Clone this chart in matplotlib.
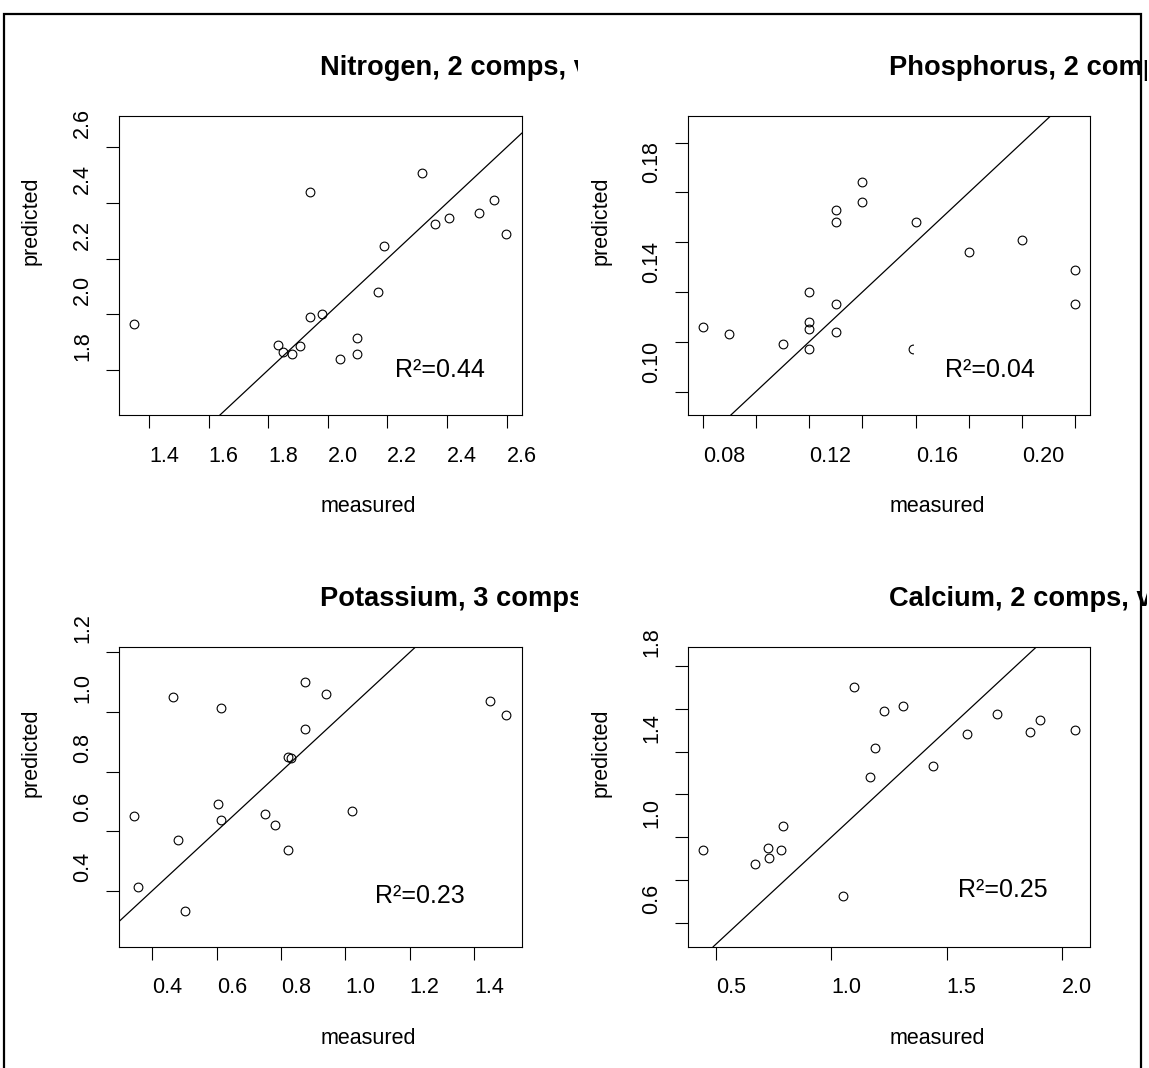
import matplotlib
matplotlib.use("Agg")
import matplotlib.pyplot as plt
from matplotlib.patches import Rectangle
from matplotlib.transforms import offset_copy, Bbox, TransformedBbox

plt.rcParams['font.family'] = 'Liberation Sans'

W, H = 1149, 1068

# measured vs predicted, one pair of lists per nutrient
n_meas = [1.349, 1.939, 2.317, 2.559, 2.508, 2.408, 2.359, 2.599, 2.190, 2.167,
          1.982, 1.939, 2.099, 2.099, 2.040, 1.832, 1.908, 1.849, 1.881]
n_pred = [1.964, 2.439, 2.508, 2.412, 2.363, 2.348, 2.325, 2.290, 2.244, 2.081,
          2.000, 1.989, 1.914, 1.858, 1.840, 1.890, 1.886, 1.863, 1.858]

p_meas = [0.080, 0.090, 0.110, 0.120, 0.120, 0.120, 0.120, 0.130, 0.130, 0.130,
          0.130, 0.140, 0.140, 0.160, 0.180, 0.200, 0.220, 0.220, 0.159]
p_pred = [0.126, 0.123, 0.119, 0.140, 0.128, 0.125, 0.117, 0.173, 0.168, 0.135,
          0.124, 0.184, 0.176, 0.168, 0.156, 0.161, 0.149, 0.135, 0.117]

k_meas = [0.342, 0.356, 0.465, 0.481, 0.503, 0.613, 0.603, 0.613, 0.751, 0.781,
          0.823, 0.823, 0.832, 0.874, 0.874, 0.941, 1.022, 1.451, 1.500]
k_pred = [0.650, 0.412, 1.049, 0.569, 0.332, 1.014, 0.692, 0.637, 0.658, 0.619,
          0.536, 0.850, 0.844, 1.099, 0.943, 1.061, 0.666, 1.037, 0.989]

ca_meas = [0.442, 0.670, 0.729, 0.724, 0.783, 0.789, 1.052, 1.100, 1.169, 1.188,
           1.230, 1.312, 1.440, 1.588, 1.716, 1.862, 1.904, 2.056]
ca_pred = [0.938, 0.873, 0.902, 0.949, 0.938, 1.051, 0.725, 1.700, 1.281, 1.416,
           1.588, 1.611, 1.334, 1.482, 1.575, 1.493, 1.547, 1.499]

titles = ["Nitrogen, 2 comps, validation", "Phosphorus, 2 comps, validation",
          "Potassium, 3 comps, validation", "Calcium, 2 comps, validation"]
r2_labels = ["R²=0.44", "R²=0.04", "R²=0.23", "R²=0.25"]
r2_pos = [(2.2255, 1.776), (0.1710, 0.1060), (1.0923, 0.3597), (1.548, 0.7215)]

n_xticks = [1.4, 1.6, 1.8, 2.0, 2.2, 2.4, 2.6]
n_xlabels = ['1.4', '1.6', '1.8', '2.0', '2.2', '2.4', '2.6']
n_yticks = [1.8, 2.0, 2.2, 2.4, 2.6]
n_ylabels = ['1.8', '2.0', '2.2', '2.4', '2.6']

p_xticks = [0.08, 0.10, 0.12, 0.14, 0.16, 0.18, 0.20, 0.22]
p_xlabels = ['0.08', '', '0.12', '', '0.16', '', '0.20', '']
p_yticks = [0.10, 0.12, 0.14, 0.16, 0.18, 0.20]
p_ylabels = ['0.10', '', '0.14', '', '0.18', '']

k_xticks = [0.4, 0.6, 0.8, 1.0, 1.2, 1.4]
k_xlabels = ['0.4', '0.6', '0.8', '1.0', '1.2', '1.4']
k_yticks = [0.4, 0.6, 0.8, 1.0, 1.2]
k_ylabels = ['0.4', '0.6', '0.8', '1.0', '1.2']

ca_xticks = [0.5, 1.0, 1.5, 2.0]
ca_xlabels = ['0.5', '1.0', '1.5', '2.0']
ca_yticks = [0.6, 0.8, 1.0, 1.2, 1.4, 1.6, 1.8]
ca_ylabels = ['0.6', '', '1.0', '', '1.4', '', '1.8']

limits = [((1.299, 2.651), (1.638, 2.714)),
          ((0.0746, 0.2255), (0.0906, 0.2108)),
          ((0.2965, 1.548), (0.212, 1.217)),
          ((0.380, 2.121), (0.488, 1.887))]

fig = plt.figure(figsize=(W / 100, H / 100), dpi=100)


def add_axes_px(left, top, right, bottom):
    return fig.add_axes([left / W, 1 - bottom / H, (right - left) / W, (bottom - top) / H])


def draw_panel(ax, title, meas, pred, lims, xt, xl, yt, yl, r2, pos, clip_x):
    ax.plot(meas, pred, 'o', mfc='none', mec='black', ms=6.3, mew=0.8, zorder=2)
    ax.axline((0, 0), slope=1, color='black', lw=0.9, zorder=2)
    ax.set_xlim(lims[0])
    ax.set_ylim(lims[1])
    ax.set_xticks(xt)
    ax.set_xticklabels([])
    ax.set_yticks(yt)
    ax.set_yticklabels([])
    ax.tick_params(direction='out', length=9.4, width=0.8, top=False, right=False)
    for sp in ax.spines.values():
        sp.set_linewidth(0.8)

    # tick labels start at the tick, like the old metafile output
    xtr = offset_copy(ax.get_xaxis_transform(), fig=fig, x=0, y=-46.7, units='dots')
    for v, s in zip(xt, xl):
        ax.text(v, 0, s, transform=xtr, ha='left', va='baseline', fontsize=15.5)
    ytr = offset_copy(ax.get_yaxis_transform(), fig=fig, x=-30.7, y=9, units='dots')
    for v, s in zip(yt, yl):
        ax.text(0, v, s, transform=ytr, rotation=90, rotation_mode='anchor',
                ha='left', va='baseline', fontsize=15.5)

    ax.text(0.5, 0, 'measured', fontsize=15.5, ha='left', va='baseline',
            transform=offset_copy(ax.transAxes, fig=fig, x=0, y=-97.3, units='dots'))
    ax.text(0, 0.5, 'predicted', fontsize=15.5, rotation=90, rotation_mode='anchor',
            ha='left', va='baseline',
            transform=offset_copy(ax.transAxes, fig=fig, x=-82, y=0, units='dots'))

    t = ax.text(0.5, 1, title, fontsize=19.6, fontweight='bold', ha='left', va='baseline',
                transform=offset_copy(ax.transAxes, fig=fig, x=0, y=41, units='dots'))
    t.set_clip_box(TransformedBbox(Bbox([[0, 0], [clip_x / W, 1]]), fig.transFigure))
    t.set_clip_on(True)

    ax.text(pos[0], pos[1], r2, fontsize=18, ha='left', va='baseline', zorder=2.3,
            bbox=dict(boxstyle='square,pad=1.24', fc='white', ec='none'))


ax1 = add_axes_px(119, 115.7, 521.7, 415)
ax2 = add_axes_px(688.3, 115.7, 1090, 415)
ax3 = add_axes_px(119, 647.3, 521.7, 946.7)
ax4 = add_axes_px(688.3, 647.3, 1090, 946.7)

draw_panel(ax1, titles[0], n_meas, n_pred, limits[0], n_xticks, n_xlabels,
           n_yticks, n_ylabels, r2_labels[0], r2_pos[0], 578)
draw_panel(ax2, titles[1], p_meas, p_pred, limits[1], p_xticks, p_xlabels,
           p_yticks, p_ylabels, r2_labels[1], r2_pos[1], 1147)
draw_panel(ax3, titles[2], k_meas, k_pred, limits[2], k_xticks, k_xlabels,
           k_yticks, k_ylabels, r2_labels[2], r2_pos[2], 578)
draw_panel(ax4, titles[3], ca_meas, ca_pred, limits[3], ca_xticks, ca_xlabels,
           ca_yticks, ca_ylabels, r2_labels[3], r2_pos[3], 1147)

# frame around the whole page
fig.add_artist(Rectangle((4 / W, -0.05), (1141 - 4) / W, (1 - 14 / H) + 0.05,
                         transform=fig.transFigure, fill=False, ec='black', lw=1.6,
                         clip_on=False))

fig.savefig('out.png', dpi=100)
